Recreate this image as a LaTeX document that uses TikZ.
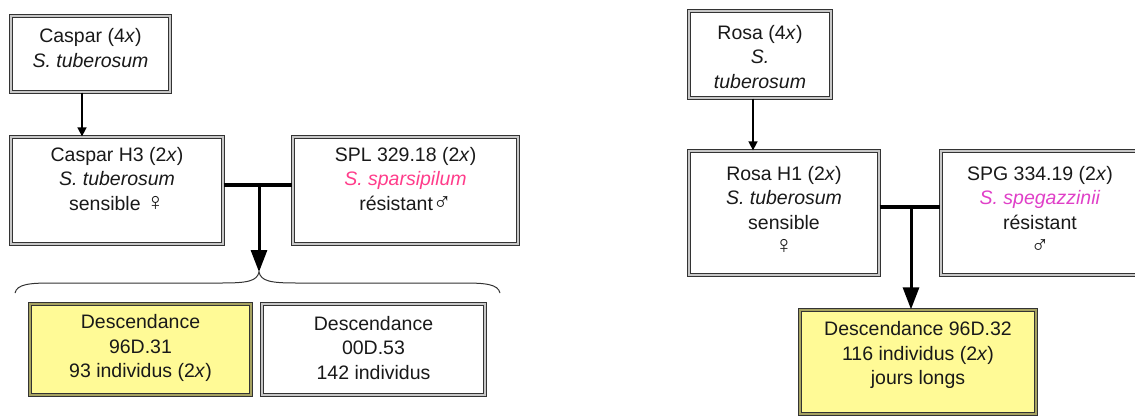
\documentclass[tikz,border=0pt]{standalone}
\usepackage{fontspec}
\setmainfont{Liberation Sans}
\newcommand{\fem}{{\fontsize{25}{24}\selectfont ♀}}
\newcommand{\mal}{{\fontsize{25}{24}\selectfont ♂}}
\usetikzlibrary{arrows.meta}
\definecolor{pinkA}{HTML}{FF3D8B}
\definecolor{pinkB}{HTML}{E040C8}
\definecolor{descyellow}{HTML}{FFFA96}
\tikzset{
  box/.style={draw=black!80, double=black!22, double distance=2pt, line width=1.3pt, inner sep=0pt, fill=white},
  ybox/.style={box, fill=descyellow, double=black!35!descyellow},
  txt/.style={align=center, inner sep=0pt, font=\fontsize{19.5}{24.5}\selectfont, text=black!90},
  thinarr/.style={line width=1.6pt, -{Triangle[length=9pt,width=9pt]}},
  matearr/.style={line width=3pt, -{Triangle[length=22pt,width=16pt]}},
  cross/.style={line width=3.5pt},
  bracestyle/.style={line width=1pt, draw=black!80}
}
\begin{document}
\begin{tikzpicture}[x=1pt,y=-1pt]
\clip (0,0) rectangle (1135,415);
\fill[white] (0,0) rectangle (1135,415);
% ---------- left family ----------
\node[box, minimum width=159pt, minimum height=76pt] (caspar) at (90.5,54) {};
\node[txt] (tcaspar) at (90.5,48) {Caspar (4\textit{x})\\\textit{S. tuberosum}};
\node[box, minimum width=212pt, minimum height=107pt] (h3) at (117,190.5) {};
\node[txt, anchor=north] (th3) at (117,147) {Caspar H3 (2\textit{x})\\\textit{S. tuberosum}\\sensible \fem};
\node[box, minimum width=225pt, minimum height=107pt] (spl) at (405.5,190.5) {};
\node[txt, anchor=north] (tspl) at (405.5,147) {SPL 329.18 (2\textit{x})\\\textcolor{pinkA}{\textit{S. sparsipilum}}\\résistant\mal};
\node[ybox, minimum width=221pt, minimum height=91pt] (d31) at (140.5,349.5) {};
\node[txt] (td31) at (140.5,348) {Descendance\\96D.31\\93 individus (2\textit{x})};
\node[box, minimum width=223pt, minimum height=91pt] (d53) at (373.5,349.5) {};
\node[txt] (td53) at (373.5,348) {Descendance\\00D.53\\142 individus};
\coordinate (a1) at (82,0);
\draw[thinarr] (caspar.south -| a1) -- (h3.north -| a1);
\coordinate (j1) at (259,185);
\coordinate (btip) at (259,272);
\draw[cross] (h3.east |- j1) -- (spl.west |- j1);
\draw[bracestyle] (15,293) .. controls (17,284) and (30,283) .. (52,283) -- (222,283)
  .. controls (248,283) and (257,281) .. (btip)
  .. controls (261,281) and (270,283) .. (296,283) -- (463,283)
  .. controls (485,283) and (498,284) .. (500,293);
\draw[matearr] (j1) -- (btip);
% ---------- right family ----------
\node[box, minimum width=142pt, minimum height=87pt] (rosa) at (760,54.5) {};
\node[txt] (trosa) at (760,57) {Rosa (4\textit{x})\\\textit{S.}\\\textit{tuberosum}};
\node[box, minimum width=190pt, minimum height=124pt] (h1) at (784,213) {};
\node[txt, anchor=north] (th1) at (784,166) {Rosa H1 (2\textit{x})\\\textit{S. tuberosum}\\sensible\\\fem};
\node[box, minimum width=198pt, minimum height=124pt] (spg) at (1040,213) {};
\node[txt, anchor=north] (tspg) at (1040,166) {SPG 334.19 (2\textit{x})\\\textcolor{pinkB}{\textit{S. spegazzinii}}\\résistant\\\mal};
\node[ybox, minimum width=236pt, minimum height=104pt] (d32) at (918,362) {};
\node[txt] (td32) at (918,355) {Descendance 96D.32\\116 individus (2\textit{x})\\jours longs};
\coordinate (a2) at (753,0);
\draw[thinarr] (rosa.south -| a2) -- (h1.north -| a2);
\coordinate (j2) at (911,207);
\draw[cross] (h1.east |- j2) -- (spg.west |- j2);
\draw[matearr] (j2) -- (d32.north -| j2);
\end{tikzpicture}
\end{document}
